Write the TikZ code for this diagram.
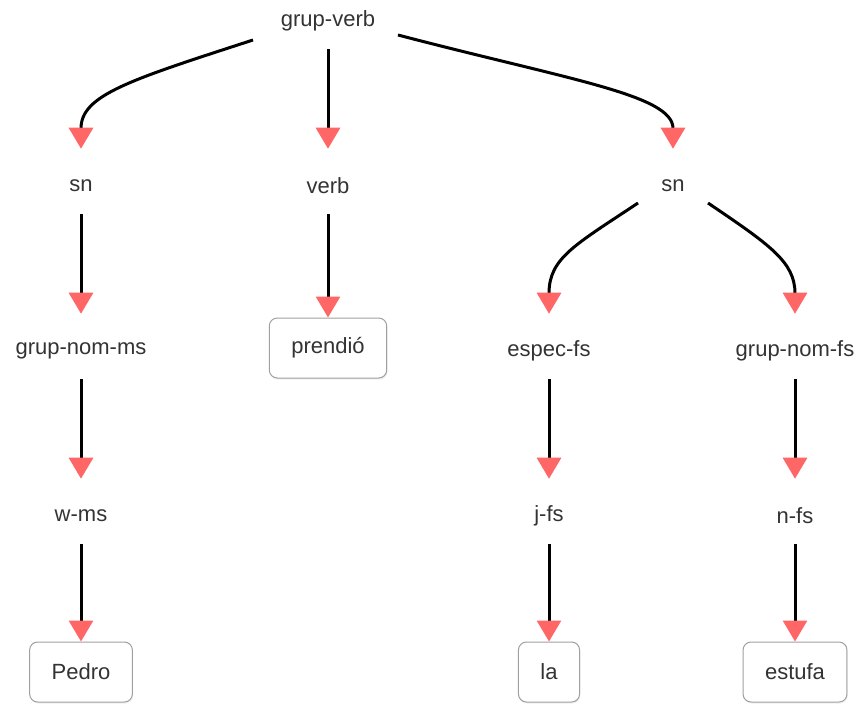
\documentclass[tikz,border=0pt]{standalone}
\usepackage{fontspec}
\setmainfont{Liberation Sans}
\usetikzlibrary{arrows.meta,calc,shadows}
\definecolor{arrowred}{HTML}{FF6666}
\definecolor{txt}{HTML}{333333}
\definecolor{boxline}{HTML}{A0A0A0}
\begin{document}
\begin{tikzpicture}[x=0.75pt,y=-0.75pt,
  lab/.style={inner sep=0pt, minimum height=42pt, text=txt, font=\fontsize{16.5}{19}\selectfont},
  wordbox/.style={draw=boxline, rounded corners=6pt, minimum height=45pt, inner xsep=16.5pt, fill=white, line width=0.75pt, text=txt, font=\fontsize{16.5}{19}\selectfont, drop shadow={opacity=0.12, shadow xshift=0.6pt, shadow yshift=-1.2pt}},
  link/.style={line width=2.25pt, -{Triangle[length=15.75pt,width=18pt,color=arrowred]}},
  tolab/.style={link, shorten >=6.75pt}]
\useasboundingbox (0,0) rectangle (855,704);

% nodes
\node[lab] (gv) at (328,21) {grup-verb};
\node[lab] (sn1) at (81,186) {sn};
\node[lab] (verb) at (328,186) {verb};
\node[lab] (sn2) at (673,186) {sn};
\node[lab] (gnms) at (81,351) {grup-nom-ms};
\node[wordbox] (prendio) at (328,348) {prendió};
\node[lab] (espec) at (549,351) {espec-fs};
\node[lab] (gnfs) at (795,351) {grup-nom-fs};
\node[lab] (wms) at (81,516) {w-ms};
\node[lab] (jfs) at (549,516) {j-fs};
\node[lab] (nfs) at (795,516) {n-fs};
\node[wordbox] (pedro) at (81,672) {Pedro};
\node[wordbox] (la) at (549,672) {la};
\node[wordbox] (estufa) at (795,672) {estufa};

% connectors
\draw[tolab] ($(gv.center)+(-75,19)$) .. controls (130,80) and (81,95) .. (sn1.north);
\draw[tolab] (gv.south) -- (verb.north);
\draw[tolab] ($(gv.center)+(70,14)$) .. controls (570,80) and (673,95) .. (sn2.north);
\draw[tolab] (sn1.south) -- (gnms.north);
\draw[link] (verb.south) -- (prendio.north);
\draw[tolab] ($(sn2.center)+(-35,17)$) .. controls (575,245) and (549,258) .. (espec.north);
\draw[tolab] ($(sn2.center)+(35,17)$) .. controls (770,245) and (795,262) .. (gnfs.north);
\draw[tolab] (gnms.south) -- (wms.north);
\draw[tolab] (espec.south) -- (jfs.north);
\draw[tolab] (gnfs.south) -- (nfs.north);
\draw[link] (wms.south) -- (pedro.north);
\draw[link] (jfs.south) -- (la.north);
\draw[link] (nfs.south) -- (estufa.north);
\end{tikzpicture}
\end{document}
